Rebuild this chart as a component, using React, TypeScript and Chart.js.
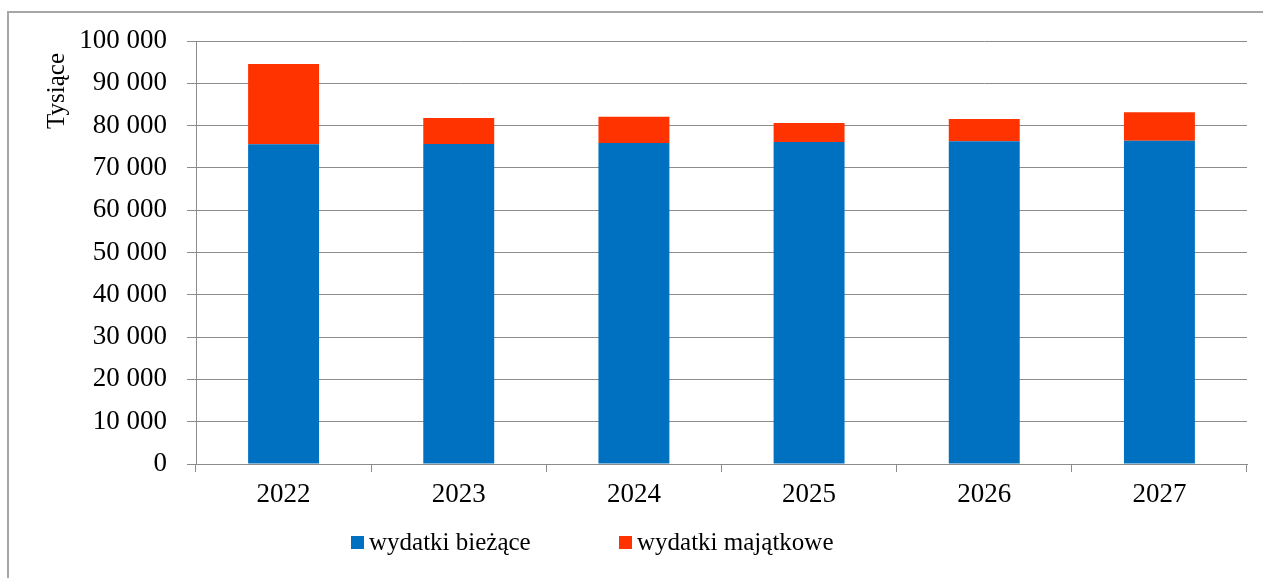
import React, { useEffect, useRef } from 'react';
import { Chart, registerables } from 'chart.js';

Chart.register(...registerables);

const categories = ['2022', '2023', '2024', '2025', '2026', '2027'];
const currentSpending = [75580, 75650, 75890, 76120, 76290, 76430];
const capitalSpending = [18980, 6150, 6210, 4480, 5270, 6710];
const seriesNames = ['wydatki bieżące', 'wydatki majątkowe'];
const seriesColors = ['#0070C0', '#FF3300'];
const yMin = 0;
const yMax = 100000;
const yStep = 10000;
const yTitle = 'Tysiące';

const FONT = '"Liberation Serif", "Times New Roman", serif';
const GRID = '#8c8c8c';

const fmt = (v: number) => String(v).replace(/\B(?=(\d{3})+(?!\d))/g, ' ');

const titlePlugin = {
  id: 'yTitleCustom',
  afterDraw(chart: any) {
    const ctx = chart.ctx;
    ctx.save();
    ctx.font = `25px ${FONT}`;
    ctx.fillStyle = '#000';
    ctx.translate(64, 91);
    ctx.rotate(-Math.PI / 2);
    ctx.textAlign = 'center';
    ctx.textBaseline = 'alphabetic';
    ctx.fillText(yTitle, 0, 0);
    ctx.restore();
  },
};

export default function App() {
  const ref = useRef<HTMLCanvasElement | null>(null);

  useEffect(() => {
    if (!ref.current) return;
    const chart = new Chart(ref.current, {
      type: 'bar',
      data: {
        labels: categories,
        datasets: [
          {
            label: seriesNames[0],
            data: currentSpending,
            backgroundColor: seriesColors[0],
            borderWidth: 0,
            barPercentage: 0.405,
            categoryPercentage: 1,
          },
          {
            label: seriesNames[1],
            data: capitalSpending,
            backgroundColor: seriesColors[1],
            borderWidth: 0,
            barPercentage: 0.405,
            categoryPercentage: 1,
          },
        ],
      },
      options: {
        responsive: false,
        animation: false,
        layout: { padding: { left: 0, right: 16, top: 41, bottom: 0 } },
        plugins: {
          legend: { display: false },
          tooltip: { enabled: false },
        },
        scales: {
          x: {
            stacked: true,
            grid: {
              display: true,
              drawOnChartArea: false,
              drawTicks: true,
              tickLength: 8,
              color: GRID,
              offset: true,
            },
            border: { color: GRID, width: 1 },
            ticks: { color: '#000', font: { family: FONT, size: 27 }, padding: 7 },
            afterFit: (s: any) => {
              s.height = 114;
            },
          },
          y: {
            stacked: true,
            min: yMin,
            max: yMax,
            ticks: {
              stepSize: yStep,
              color: '#000',
              font: { family: FONT, size: 27 },
              padding: 20,
              callback: (v: any) => fmt(Number(v)),
            },
            grid: { color: GRID, tickLength: 9 },
            border: { color: GRID, width: 1 },
            afterFit: (s: any) => {
              s.width = 196;
            },
          },
        },
      },
      plugins: [titlePlugin],
    } as any);
    return () => chart.destroy();
  }, []);

  const textStyle: React.CSSProperties = {
    position: 'absolute',
    fontFamily: FONT,
    fontSize: 25,
    lineHeight: '25px',
    color: '#000',
    whiteSpace: 'nowrap',
    top: 529,
  };

  return (
    <div
      style={{
        position: 'absolute',
        left: 0,
        top: 0,
        width: 1263,
        height: 578,
        overflow: 'hidden',
        background: '#fff',
      }}
    >
      <div
        style={{
          position: 'absolute',
          left: 7,
          top: 11,
          width: 1300,
          height: 600,
          borderLeft: '2px solid #a6a6a6',
          borderTop: '2px solid #a6a6a6',
        }}
      />
      <canvas
        ref={ref}
        width={1263}
        height={578}
        style={{ position: 'absolute', left: 0, top: 0, width: 1263, height: 578 }}
      />
      <div style={{ position: 'absolute', left: 351, top: 536, width: 13, height: 13, background: seriesColors[0] }} />
      <span style={{ ...textStyle, left: 369 }}>{seriesNames[0]}</span>
      <div style={{ position: 'absolute', left: 619, top: 536, width: 13, height: 13, background: seriesColors[1] }} />
      <span style={{ ...textStyle, left: 637 }}>{seriesNames[1]}</span>
    </div>
  );
}
